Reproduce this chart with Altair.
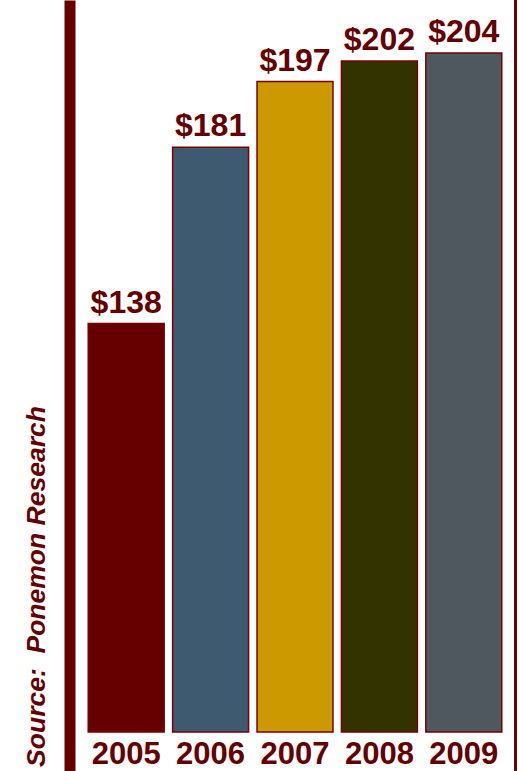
import altair as alt
import pandas as pd

years = ["2005", "2006", "2007", "2008", "2009"]
costs = [138, 181, 197, 202, 204]
labels = ["$138", "$181", "$197", "$202", "$204"]
colors = ["#660000", "#3d5a70", "#cc9900", "#333300", "#50585f"]
source_note = "Source:\u00a0 Ponemon Research"

df = pd.DataFrame({"year": years, "cost": costs, "label": labels})

DARK = "#660000"
FONT = "Liberation Sans"

y_scale = alt.Scale(domain=[28.9, 216.9], zero=False, nice=False)
x_scale = alt.Scale(paddingInner=0.1, paddingOuter=0.05)

x_axis = alt.Axis(orient="bottom", offset=-39, domain=False, ticks=False,
                  labelPadding=7, labelFontSize=31, labelFontWeight="bold",
                  labelColor=DARK, labelFont=FONT, labelAngle=0, title=None,
                  labelBaseline="top")

y_axis = alt.Axis(orient="left", offset=14.5, domain=True, domainColor=DARK,
                  domainWidth=11, ticks=False, labels=False, grid=False,
                  title=source_note, titleAngle=270, titleX=-33.5, titleY=586,
                  titleAlign="center", titleBaseline="middle", titleFont=FONT,
                  titleFontSize=26.5, titleFontStyle="italic", titleFontWeight="bold",
                  titleColor=DARK)

bars = alt.Chart(df).mark_bar(stroke="#7a0000", strokeWidth=1.5).encode(
    x=alt.X("year:N", sort=years, scale=x_scale, axis=x_axis),
    y=alt.Y("cost:Q", scale=y_scale, axis=y_axis),
    y2=alt.datum(38.4),
    color=alt.Color("year:N", scale=alt.Scale(domain=years, range=colors), legend=None),
)

text = alt.Chart(df).mark_text(dy=-11, baseline="alphabetic", fontSize=32,
                               fontWeight="bold", font=FONT, color=DARK).encode(
    x=alt.X("year:N", sort=years),
    y=alt.Y("cost:Q"),
    text="label:N",
)

rule = alt.Chart(df).mark_rule(color=DARK, strokeWidth=2).encode(
    x=alt.value(431.5), y=alt.value(0), y2=alt.value(771)
)

chart = alt.layer(bars, text, rule).properties(
    width=422, height=771,
    padding={"left": 84, "top": 0, "right": 13, "bottom": 0},
    autosize=alt.AutoSizeParams(type="none"),
    background="white",
).configure_view(stroke=None)

chart.save("out.html", embed_options={"renderer": "svg", "actions": False})
